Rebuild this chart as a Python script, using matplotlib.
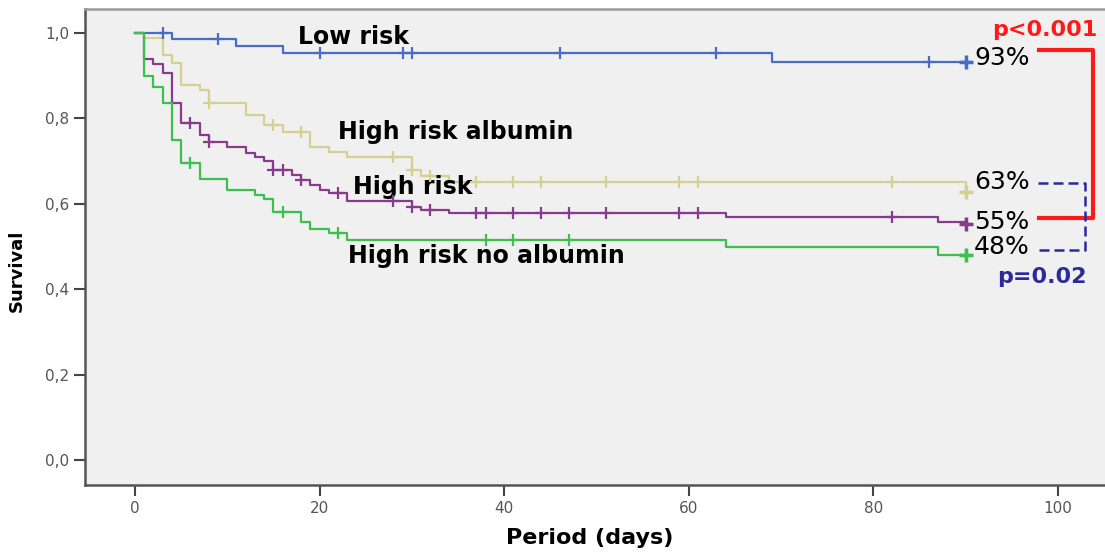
import numpy as np
import matplotlib
matplotlib.use('Agg')
import matplotlib.pyplot as plt

# Kaplan-Meier steps (day, survival after the step)
low_t = [0, 4, 11, 16, 69]
low_s = [1.0, 0.986, 0.970, 0.952, 0.932]
low_cens = [3, 9, 20, 29, 30, 46, 63, 86, 90]

alb_t = [0, 1, 3, 4, 5, 7, 8, 12, 14, 16, 19, 21, 23, 30, 31, 34, 90]
alb_s = [1.0, 0.988, 0.948, 0.929, 0.878, 0.866, 0.836, 0.808, 0.785, 0.769,
         0.734, 0.722, 0.710, 0.679, 0.665, 0.652, 0.627]
alb_cens = [8, 15, 18, 28, 30, 32, 37, 41, 44, 51, 59, 61, 82, 90]

hr_t = [0, 1, 2, 3, 4, 5, 7, 8, 10, 12, 13, 14, 15, 17, 18, 19, 20, 21, 23,
        30, 31, 34, 64, 87, 90]
hr_s = [1.0, 0.940, 0.928, 0.907, 0.836, 0.788, 0.762, 0.745, 0.732, 0.720,
        0.710, 0.700, 0.678, 0.667, 0.656, 0.644, 0.633, 0.625, 0.607,
        0.593, 0.585, 0.578, 0.568, 0.558, 0.552]
hr_cens = [6, 8, 15, 16, 18, 22, 28, 30, 32, 37, 38, 41, 44, 47, 51, 59, 61, 82, 90]

noalb_t = [0, 1, 2, 3, 4, 5, 7, 10, 13, 14, 15, 18, 19, 21, 23, 64, 87]
noalb_s = [1.0, 0.898, 0.874, 0.835, 0.749, 0.695, 0.658, 0.632, 0.621,
           0.612, 0.581, 0.558, 0.540, 0.531, 0.515, 0.498, 0.480]
noalb_cens = [6, 16, 22, 38, 41, 47, 90]

follow_up = 90

groups = [
    ('Low risk', low_t, low_s, low_cens, '#4a6cc4'),
    ('High risk albumin', alb_t, alb_s, alb_cens, '#d6cf92'),
    ('High risk', hr_t, hr_s, hr_cens, '#8a3a8c'),
    ('High risk no albumin', noalb_t, noalb_s, noalb_cens, '#3dbf4f'),
]

fig = plt.figure(figsize=(11.05, 5.54), dpi=100)
ax = fig.add_axes([0.077, 0.1245, 0.923, 0.8585])
ax.set_facecolor('#f0f0f0')

for name, t, s, cens, col in groups:
    t = np.array(t, dtype=float)
    s = np.array(s)
    tt = np.append(t, follow_up)
    ss = np.append(s, s[-1])
    ax.step(tt, ss, where='post', color=col, lw=1.6, zorder=3)
    c = np.array(cens, dtype=float)
    cy = s[np.searchsorted(t, c, side='right') - 1]
    ax.plot(c, cy, '+', color=col, ms=8, mew=1.6, zorder=4)
    ax.plot(c[-1:], cy[-1:], '+', color=col, ms=10, mew=2.5, zorder=4)

ax.set_xlim(-5.4, 105.1)
ax.set_ylim(-0.0585, 1.055)
ax.set_xticks([0, 20, 40, 60, 80, 100])
ax.set_yticks([0, 0.2, 0.4, 0.6, 0.8, 1.0])
ax.set_yticklabels(['0,0', '0,2', '0,4', '0,6', '0,8', '1,0'])
ax.tick_params(direction='out', length=8, width=1.5, color='#444444',
               labelsize=11, labelcolor='#555555')
for sp in ['left', 'bottom']:
    ax.spines[sp].set_color('#555555')
    ax.spines[sp].set_linewidth(1.8)
ax.spines['top'].set_color('#999999')
ax.spines['top'].set_linewidth(1.8)
ax.spines['right'].set_visible(False)

ax.set_xlabel('Period (days)', fontsize=16, fontweight='bold')
ax.xaxis.set_label_coords(0.495, -0.09)
ax.set_ylabel('Survival', fontsize=13, fontweight='bold')
ax.yaxis.set_label_coords(-0.058, 0.45)

lab = dict(fontsize=17, fontweight='bold', ha='center', va='center')
ax.text(23.7, 0.99, 'Low risk', **lab)
ax.text(34.8, 0.768, 'High risk albumin', **lab)
ax.text(30.1, 0.639, 'High risk', **lab)
ax.text(38.1, 0.478, 'High risk no albumin', **lab)

pct = dict(fontsize=18, ha='left', va='center')
ax.text(90.9, 0.941, '93%', **pct)
ax.text(90.9, 0.651, '63%', **pct)
ax.text(90.9, 0.557, '55%', **pct)
ax.text(90.9, 0.499, '48%', **pct)

ax.text(98.6, 1.007, 'p<0.001', color='#ff1a1a', fontsize=16,
        fontweight='bold', ha='center', va='center')
ax.text(98.3, 0.429, 'p=0.02', color='#2a2a9c', fontsize=16,
        fontweight='bold', ha='center', va='center')

ax.plot([98.0, 103.8, 103.8, 98.0], [0.960, 0.960, 0.567, 0.567],
        color='#ff1a1a', lw=3, clip_on=False, zorder=5)
ax.plot([97.8, 102.9, 102.9, 97.8], [0.649, 0.649, 0.492, 0.492],
        color='#2a2a9c', lw=1.8, ls=(0, (4, 2)), clip_on=False, zorder=5)

plt.savefig('out.png', dpi=100)
